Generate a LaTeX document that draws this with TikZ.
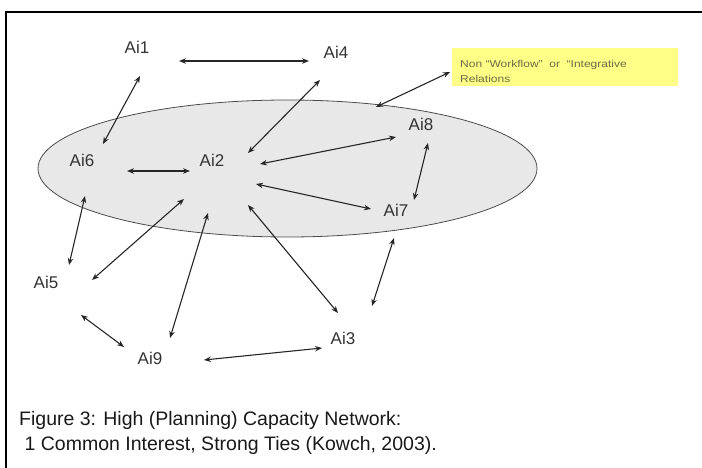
\documentclass[tikz,border=0pt]{standalone}
\usepackage{fontspec}
\setmainfont{Liberation Sans}
\usetikzlibrary{arrows.meta,shapes.geometric}
\definecolor{lbl}{HTML}{333333}
\definecolor{ellfill}{HTML}{E8E8E8}
\definecolor{boxyel}{HTML}{FFFF88}
\definecolor{boxtxt}{HTML}{6A6A40}
\begin{document}
\begin{tikzpicture}[x=1pt,y=-1pt,
  agent/.style={text=lbl,font=\fontsize{17}{19}\selectfont,inner sep=0pt},
  link/.style={{Stealth[length=7pt,width=5.5pt]}-{Stealth[length=7pt,width=5.5pt]},line width=1.1pt,black!85},
  boxtext/.style={anchor=base west,text=boxtxt,font=\fontsize{10}{15}\selectfont,inner sep=0pt,xscale=1.2},
  captext/.style={anchor=base west,inner sep=0pt,text=black!90,font=\fontsize{19.5}{24}\selectfont},
  ]
\useasboundingbox (0,0) rectangle (702,468);
% frame
\draw[line width=2pt] (6,468) -- (6,12) -- (702,12);
% ellipse
\node[ellipse,draw=black!70,fill=ellfill,line width=0.8pt,minimum width=499pt,minimum height=137pt,inner sep=0pt] (ell) at (287.5,168.5) {};
% yellow box
\node[fill=boxyel,minimum width=226pt,minimum height=38pt,inner sep=0pt] (box) at (565,67) {};
\node[boxtext] (boxt1) at (460,68) {Non ``Workflow''~ or~ ``Integrative};
\node[boxtext] (boxt2) at (460,83) {Relations};
% agents
\node[agent] (a1) at (137,47) {Ai1};
\node[agent] (a4) at (336,52) {Ai4};
\node[agent] (a6) at (82,160) {Ai6};
\node[agent] (a2) at (212,160) {Ai2};
\node[agent] (a8) at (421,124) {Ai8};
\node[agent] (a7) at (396,210) {Ai7};
\node[agent] (a5) at (46,282) {Ai5};
\node[agent] (a9) at (150,358) {Ai9};
\node[agent] (a3) at (343,338) {Ai3};
% connector end points
\coordinate (p1a) at (179,61);  \coordinate (p1b) at (309,61);
\coordinate (p2a) at (140,76);  \coordinate (p2b) at (103,144);
\coordinate (p3a) at (320,80);  \coordinate (p3b) at (248,153);
\coordinate (p4a) at (450,72);  \coordinate (p4b) at (376,107);
\coordinate (p5a) at (127,171); \coordinate (p5b) at (190,171);
\coordinate (p6a) at (260,164); \coordinate (p6b) at (396,137);
\coordinate (p7a) at (428,143); \coordinate (p7b) at (414,200);
\coordinate (p8a) at (256,184); \coordinate (p8b) at (371,209);
\coordinate (p9a) at (85,196);  \coordinate (p9b) at (69,265);
\coordinate (p10a) at (184,199); \coordinate (p10b) at (92,280);
\coordinate (p11a) at (208,213); \coordinate (p11b) at (170,338);
\coordinate (p12a) at (248,205); \coordinate (p12b) at (338,313);
\coordinate (p13a) at (394,238); \coordinate (p13b) at (372,306);
\coordinate (p14a) at (81,315);  \coordinate (p14b) at (124,347);
\coordinate (p15a) at (204,360); \coordinate (p15b) at (322,348);
\draw[link] (p1a) -- (p1b);
\draw[link] (p2a) -- (p2b);
\draw[link] (p3a) -- (p3b);
\draw[link] (p4a) -- (p4b);
\draw[link,line width=1.6pt] (p5a) -- (p5b);
\draw[link] (p6a) -- (p6b);
\draw[link] (p7a) -- (p7b);
\draw[link] (p8a) -- (p8b);
\draw[link] (p9a) -- (p9b);
\draw[link] (p10a) -- (p10b);
\draw[link] (p11a) -- (p11b);
\draw[link] (p12a) -- (p12b);
\draw[link] (p13a) -- (p13b);
\draw[link] (p14a) -- (p14b);
\draw[link] (p15a) -- (p15b);
% caption
\node[captext] (cap1) at (19,425) {Figure 3: High (Planning) Capacity Network:};
\node[captext] (cap2) at (19,450) {\ 1 Common Interest, Strong Ties (Kowch, 2003).};
\end{tikzpicture}
\end{document}
